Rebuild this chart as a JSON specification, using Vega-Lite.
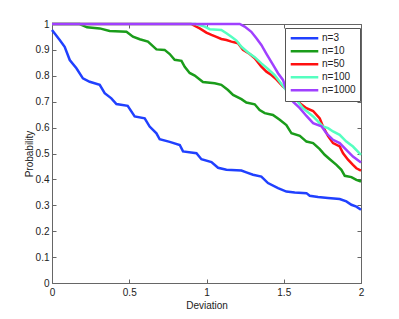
{
"$schema": "https://vega.github.io/schema/vega-lite/v6.json",
"width": 309, "height": 259,
"autosize": {"type": "none"},
"padding": {"left": 52, "top": 24, "right": 38, "bottom": 36},
"background": "white",
"config": {"view": {"stroke": null}, "font": "Liberation Sans"},
"datasets": {"d": [
{"s":"n=3","x":0,"y":0.977},{"s":"n=3","x":0.05,"y":0.938},{"s":"n=3","x":0.082,"y":0.912},{"s":"n=3","x":0.115,"y":0.861},{"s":"n=3","x":0.158,"y":0.829},{"s":"n=3","x":0.2,"y":0.79},{"s":"n=3","x":0.244,"y":0.777},{"s":"n=3","x":0.309,"y":0.765},{"s":"n=3","x":0.341,"y":0.733},{"s":"n=3","x":0.384,"y":0.713},{"s":"n=3","x":0.417,"y":0.691},{"s":"n=3","x":0.49,"y":0.684},{"s":"n=3","x":0.535,"y":0.643},{"s":"n=3","x":0.6,"y":0.636},{"s":"n=3","x":0.632,"y":0.604},{"s":"n=3","x":0.676,"y":0.578},{"s":"n=3","x":0.697,"y":0.555},{"s":"n=3","x":0.762,"y":0.545},{"s":"n=3","x":0.827,"y":0.533},{"s":"n=3","x":0.848,"y":0.508},{"s":"n=3","x":0.935,"y":0.501},{"s":"n=3","x":0.967,"y":0.478},{"s":"n=3","x":1.032,"y":0.467},{"s":"n=3","x":1.075,"y":0.445},{"s":"n=3","x":1.129,"y":0.437},{"s":"n=3","x":1.226,"y":0.434},{"s":"n=3","x":1.258,"y":0.427},{"s":"n=3","x":1.301,"y":0.418},{"s":"n=3","x":1.355,"y":0.411},{"s":"n=3","x":1.398,"y":0.386},{"s":"n=3","x":1.463,"y":0.366},{"s":"n=3","x":1.517,"y":0.353},{"s":"n=3","x":1.571,"y":0.349},{"s":"n=3","x":1.647,"y":0.347},{"s":"n=3","x":1.668,"y":0.337},{"s":"n=3","x":1.722,"y":0.332},{"s":"n=3","x":1.786,"y":0.328},{"s":"n=3","x":1.862,"y":0.324},{"s":"n=3","x":1.905,"y":0.315},{"s":"n=3","x":1.938,"y":0.302},{"s":"n=3","x":1.97,"y":0.295},{"s":"n=3","x":2.0,"y":0.283},
{"s":"n=10","x":0,"y":1},{"s":"n=10","x":0.179,"y":1},{"s":"n=10","x":0.227,"y":0.987},{"s":"n=10","x":0.309,"y":0.983},{"s":"n=10","x":0.373,"y":0.973},{"s":"n=10","x":0.482,"y":0.97},{"s":"n=10","x":0.524,"y":0.951},{"s":"n=10","x":0.568,"y":0.941},{"s":"n=10","x":0.621,"y":0.932},{"s":"n=10","x":0.676,"y":0.902},{"s":"n=10","x":0.729,"y":0.9},{"s":"n=10","x":0.762,"y":0.884},{"s":"n=10","x":0.794,"y":0.862},{"s":"n=10","x":0.838,"y":0.858},{"s":"n=10","x":0.859,"y":0.835},{"s":"n=10","x":0.891,"y":0.811},{"s":"n=10","x":0.924,"y":0.801},{"s":"n=10","x":0.977,"y":0.776},{"s":"n=10","x":1.053,"y":0.771},{"s":"n=10","x":1.096,"y":0.765},{"s":"n=10","x":1.139,"y":0.745},{"s":"n=10","x":1.172,"y":0.726},{"s":"n=10","x":1.226,"y":0.71},{"s":"n=10","x":1.258,"y":0.697},{"s":"n=10","x":1.312,"y":0.69},{"s":"n=10","x":1.344,"y":0.668},{"s":"n=10","x":1.377,"y":0.656},{"s":"n=10","x":1.43,"y":0.649},{"s":"n=10","x":1.474,"y":0.63},{"s":"n=10","x":1.517,"y":0.61},{"s":"n=10","x":1.55,"y":0.578},{"s":"n=10","x":1.604,"y":0.568},{"s":"n=10","x":1.647,"y":0.546},{"s":"n=10","x":1.69,"y":0.54},{"s":"n=10","x":1.733,"y":0.517},{"s":"n=10","x":1.765,"y":0.495},{"s":"n=10","x":1.798,"y":0.478},{"s":"n=10","x":1.841,"y":0.456},{"s":"n=10","x":1.873,"y":0.437},{"s":"n=10","x":1.895,"y":0.414},{"s":"n=10","x":1.938,"y":0.409},{"s":"n=10","x":1.97,"y":0.398},{"s":"n=10","x":2.0,"y":0.392},
{"s":"n=50","x":0,"y":1},{"s":"n=50","x":0.9,"y":1},{"s":"n=50","x":0.956,"y":0.983},{"s":"n=50","x":0.999,"y":0.967},{"s":"n=50","x":1.032,"y":0.958},{"s":"n=50","x":1.064,"y":0.95},{"s":"n=50","x":1.096,"y":0.942},{"s":"n=50","x":1.129,"y":0.938},{"s":"n=50","x":1.161,"y":0.932},{"s":"n=50","x":1.204,"y":0.926},{"s":"n=50","x":1.236,"y":0.9},{"s":"n=50","x":1.28,"y":0.884},{"s":"n=50","x":1.312,"y":0.868},{"s":"n=50","x":1.355,"y":0.835},{"s":"n=50","x":1.388,"y":0.816},{"s":"n=50","x":1.42,"y":0.803},{"s":"n=50","x":1.452,"y":0.786},{"s":"n=50","x":1.495,"y":0.758},{"s":"n=50","x":1.539,"y":0.739},{"s":"n=50","x":1.582,"y":0.72},{"s":"n=50","x":1.604,"y":0.694},{"s":"n=50","x":1.647,"y":0.675},{"s":"n=50","x":1.69,"y":0.664},{"s":"n=50","x":1.733,"y":0.635},{"s":"n=50","x":1.754,"y":0.604},{"s":"n=50","x":1.787,"y":0.567},{"s":"n=50","x":1.819,"y":0.54},{"s":"n=50","x":1.862,"y":0.527},{"s":"n=50","x":1.884,"y":0.501},{"s":"n=50","x":1.916,"y":0.476},{"s":"n=50","x":1.948,"y":0.456},{"s":"n=50","x":1.97,"y":0.443},{"s":"n=50","x":2.0,"y":0.434},
{"s":"n=100","x":0,"y":1},{"s":"n=100","x":0.93,"y":1},{"s":"n=100","x":0.988,"y":0.99},{"s":"n=100","x":1.021,"y":0.98},{"s":"n=100","x":1.096,"y":0.977},{"s":"n=100","x":1.129,"y":0.964},{"s":"n=100","x":1.161,"y":0.951},{"s":"n=100","x":1.194,"y":0.936},{"s":"n=100","x":1.226,"y":0.912},{"s":"n=100","x":1.269,"y":0.89},{"s":"n=100","x":1.312,"y":0.872},{"s":"n=100","x":1.355,"y":0.848},{"s":"n=100","x":1.398,"y":0.826},{"s":"n=100","x":1.441,"y":0.803},{"s":"n=100","x":1.474,"y":0.777},{"s":"n=100","x":1.539,"y":0.726},{"s":"n=100","x":1.582,"y":0.707},{"s":"n=100","x":1.625,"y":0.675},{"s":"n=100","x":1.69,"y":0.643},{"s":"n=100","x":1.754,"y":0.604},{"s":"n=100","x":1.787,"y":0.598},{"s":"n=100","x":1.819,"y":0.585},{"s":"n=100","x":1.862,"y":0.572},{"s":"n=100","x":1.905,"y":0.546},{"s":"n=100","x":1.948,"y":0.527},{"s":"n=100","x":2.0,"y":0.495},
{"s":"n=1000","x":0,"y":1},{"s":"n=1000","x":1.215,"y":1},{"s":"n=1000","x":1.247,"y":0.99},{"s":"n=1000","x":1.29,"y":0.97},{"s":"n=1000","x":1.323,"y":0.945},{"s":"n=1000","x":1.355,"y":0.919},{"s":"n=1000","x":1.388,"y":0.885},{"s":"n=1000","x":1.43,"y":0.843},{"s":"n=1000","x":1.463,"y":0.81},{"s":"n=1000","x":1.495,"y":0.784},{"s":"n=1000","x":1.517,"y":0.745},{"s":"n=1000","x":1.56,"y":0.7},{"s":"n=1000","x":1.604,"y":0.675},{"s":"n=1000","x":1.647,"y":0.645},{"s":"n=1000","x":1.69,"y":0.617},{"s":"n=1000","x":1.744,"y":0.605},{"s":"n=1000","x":1.776,"y":0.578},{"s":"n=1000","x":1.819,"y":0.553},{"s":"n=1000","x":1.862,"y":0.54},{"s":"n=1000","x":1.905,"y":0.514},{"s":"n=1000","x":1.948,"y":0.488},{"s":"n=1000","x":2.0,"y":0.465}
]},
"data": {"name": "d"},
"resolve": {"axis": {"x": "independent", "y": "independent"}},
"layer": [
{
"mark": {"type": "line", "strokeWidth": 2.5, "clip": false},
"encoding": {
"x": {"field": "x", "type": "quantitative", "scale": {"domain": [0, 2], "nice": false},
  "axis": {"title": "Deviation", "values": [0, 0.5, 1, 1.5, 2], "format": "~g", "grid": false, "labelFlush": false,
    "domainColor": "#666", "tickColor": "#666", "tickSize": -4, "labelPadding": 8,
    "labelFontSize": 10, "labelColor": "#222", "titleFontSize": 10, "titleFontWeight": "normal", "titleColor": "#222", "titlePadding": 3}},
"y": {"field": "y", "type": "quantitative", "scale": {"domain": [0, 1], "nice": false},
  "axis": {"title": "Probability", "values": [0,0.1,0.2,0.3,0.4,0.5,0.6,0.7,0.8,0.9,1], "format": "~g", "grid": false, "labelFlush": false,
    "domainColor": "#666", "tickColor": "#666", "tickSize": -4, "labelPadding": 7,
    "labelFontSize": 10, "labelColor": "#222", "titleFontSize": 10, "titleFontWeight": "normal", "titleColor": "#222", "titlePadding": 1}},
"color": {"field": "s", "type": "nominal",
  "scale": {"domain": ["n=3","n=10","n=50","n=100","n=1000"], "range": ["#2040ff","#1a9c1a","#ff1010","#55ffc0","#a040ff"]},
  "legend": {"title": null, "orient": "none", "legendX": 233, "legendY": 4,
    "symbolType": "stroke", "symbolSize": 760, "symbolStrokeWidth": 2.5, "clipHeight": 12.6,
    "labelFontSize": 10, "labelColor": "#222", "labelOffset": 2,
    "strokeColor": "#555", "fillColor": "white", "padding": 4, "rowPadding": 0}}
}
},
{
"mark": {"type": "line", "opacity": 0},
"encoding": {
"x": {"field": "x", "type": "quantitative", "scale": {"domain": [0, 2], "nice": false},
  "axis": {"orient": "top", "title": null, "labels": false, "values": [0, 0.5, 1, 1.5, 2], "grid": false, "domainColor": "#666", "tickColor": "#666", "tickSize": -4}},
"y": {"field": "y", "type": "quantitative", "scale": {"domain": [0, 1], "nice": false},
  "axis": {"orient": "right", "title": null, "labels": false, "values": [0,0.1,0.2,0.3,0.4,0.5,0.6,0.7,0.8,0.9,1], "grid": false, "domainColor": "#666", "tickColor": "#666", "tickSize": -4}}
}
}
]
}
